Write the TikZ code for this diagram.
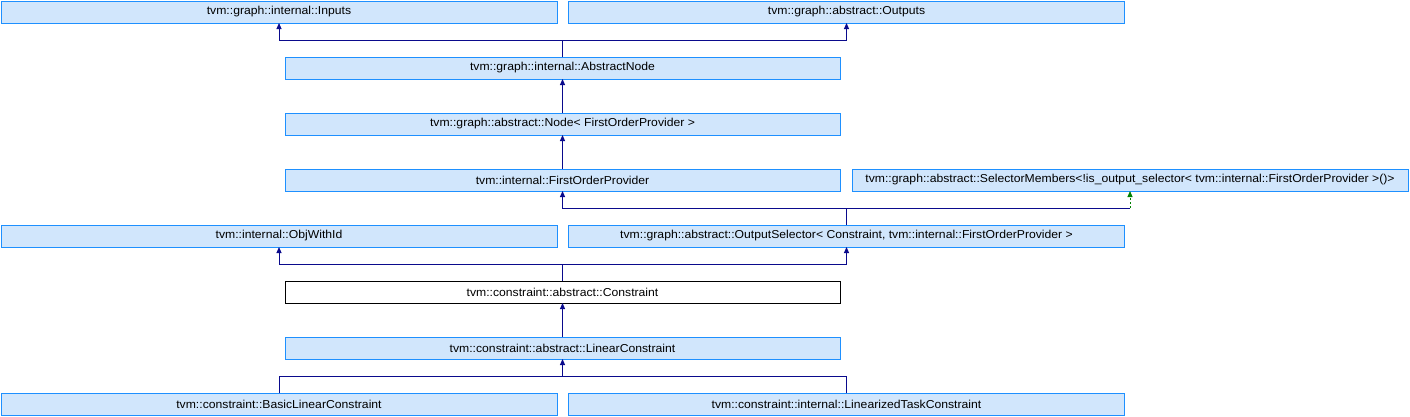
\documentclass[tikz,border=0pt]{standalone}
\usepackage{fontspec}
\setmainfont{Liberation Sans}[FakeStretch=1.06]
\usetikzlibrary{arrows.meta}
\definecolor{boxfill}{RGB}{209,230,252}
\definecolor{boxline}{RGB}{30,144,255}
\definecolor{arrline}{RGB}{10,10,140}
\definecolor{grn}{RGB}{0,128,0}
\tikzset{
  cls/.style={draw=boxline, fill=boxfill, line width=1pt, minimum height=22pt, inner sep=0pt, outer sep=0pt, font=\fontsize{11.5}{14}\selectfont},
  clsw/.style={cls, draw=black, fill=white},
  wide/.style={minimum width=556pt},
  mid/.style={minimum width=555pt},
  arr/.style={draw=arrline, line width=1pt, -{Triangle[width=5pt,length=6pt]}},
  ln/.style={draw=arrline, line width=1pt},
  garr/.style={draw=grn, line width=1pt, dash pattern=on 2pt off 2pt, -{Triangle[width=5pt,length=6pt]}}
}
\begin{document}
\begin{tikzpicture}[x=1pt,y=-1pt]
\useasboundingbox (0,0) rectangle (1410,416);
\node[cls,wide] (inputs) at (279,12) {tvm::graph::internal::Inputs};
\node[cls,wide] (outputs) at (846.5,12) {tvm::graph::abstract::Outputs};
\node[cls,mid] (absnode) at (562.5,68) {tvm::graph::internal::AbstractNode};
\node[cls,mid] (node) at (562.5,124) {tvm::graph::abstract::Node< FirstOrderProvider >};
\node[cls,mid] (fop) at (562.5,180) {tvm::internal::FirstOrderProvider};
\node[cls,wide] (selmem) at (1130,180) {tvm::graph::abstract::SelectorMembers<!is\_output\_selector< tvm::internal::FirstOrderProvider >()>};
\node[cls,wide] (objid) at (279,236) {tvm::internal::ObjWithId};
\node[cls,wide] (outsel) at (846.5,236) {tvm::graph::abstract::OutputSelector< Constraint, tvm::internal::FirstOrderProvider >};
\node[clsw,mid] (constr) at (562.5,292) {tvm::constraint::abstract::Constraint};
\node[cls,mid] (linconstr) at (562.5,348) {tvm::constraint::abstract::LinearConstraint};
\node[cls,wide] (basic) at (279,404) {tvm::constraint::BasicLinearConstraint};
\node[cls,wide] (lintask) at (846.5,404) {tvm::constraint::internal::LinearizedTaskConstraint};
% junctions
\coordinate (j1) at (562.5,40);
\coordinate (j2) at (846.5,208);
\coordinate (j3) at (562.5,264);
\coordinate (j4) at (562.5,376);
\draw[ln] (absnode.north) -- (j1);
\draw[arr] (j1) -| (inputs.south);
\draw[arr] (j1) -| (outputs.south);
\draw[arr] (node.north) -- (absnode.south);
\draw[arr] (fop.north) -- (node.south);
\draw[ln] (outsel.north) -- (j2);
\draw[arr] (j2) -| (fop.south);
\draw[ln] (j2) -- (selmem.south |- j2);
\draw[garr] (selmem.south |- j2) -- (selmem.south);
\draw[ln] (constr.north) -- (j3);
\draw[arr] (j3) -| (objid.south);
\draw[arr] (j3) -| (outsel.south);
\draw[arr] (linconstr.north) -- (constr.south);
\draw[ln] (basic.north) |- (j4);
\draw[ln] (lintask.north) |- (j4);
\draw[arr] (j4) -- (linconstr.south);
\end{tikzpicture}
\end{document}
